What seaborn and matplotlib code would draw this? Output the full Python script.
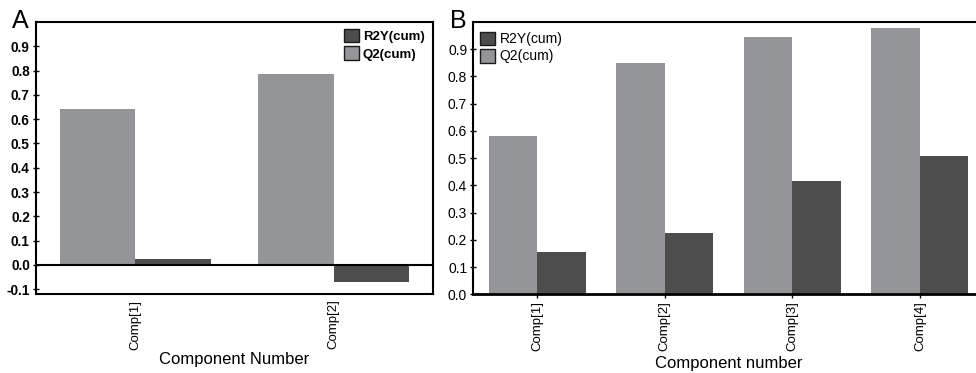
import matplotlib
matplotlib.use("Agg")
import matplotlib.pyplot as plt
from matplotlib.patches import Patch
import seaborn as sns
import numpy as np
import pandas as pd

# panel A
comps_a = ["Comp[1]", "Comp[2]"]
r2y_a = [0.025, -0.069]
q2_a = [0.643, 0.786]

# panel B
comps_b = ["Comp[1]", "Comp[2]", "Comp[3]", "Comp[4]"]
r2y_b = [0.157, 0.226, 0.417, 0.509]
q2_b = [0.582, 0.850, 0.945, 0.978]

series_names = ["R2Y(cum)", "Q2(cum)"]
colors = {"R2Y(cum)": "#4d4d4d", "Q2(cum)": "#939598"}


def long_frame(comps, r2y, q2):
    return pd.DataFrame({
        "comp": comps + comps,
        "value": list(r2y) + list(q2),
        "series": ["R2Y(cum)"] * len(comps) + ["Q2(cum)"] * len(comps),
    })


def draw_panel(ax, df):
    sns.barplot(data=df, x="comp", y="value", hue="series",
                hue_order=["Q2(cum)", "R2Y(cum)"], palette=colors,
                width=0.76, gap=0, saturation=1, errorbar=None,
                legend=False, ax=ax)
    for bar in ax.patches:
        bar.set_linewidth(0)
    ax.set_ylabel("")
    ax.tick_params(axis="x", labelrotation=90, labelsize=9.5, length=0, pad=4)
    ax.tick_params(axis="y", labelsize=9.5, direction="inout", length=5,
                   width=1, pad=2, left=True)
    for sp in ax.spines.values():
        sp.set_color("black")
        sp.set_linewidth(1.5)


sns.set_theme(style="white")
plt.rcParams['font.family'] = ['Liberation Sans', 'DejaVu Sans']
plt.rcParams['axes.unicode_minus'] = False
for key in ['text.color', 'axes.labelcolor', 'xtick.color', 'ytick.color']:
    plt.rcParams[key] = 'black'

fig = plt.figure(figsize=(9.76, 3.73), dpi=100)
ax_a = fig.add_axes([0.0369, 0.2118, 0.4068, 0.729])
ax_b = fig.add_axes([0.4851, 0.2105, 0.5228, 0.7306])

# ---- A
draw_panel(ax_a, long_frame(comps_a, r2y_a, q2_a))
ax_a.set_xlim(-0.5, 1.5)
ax_a.set_ylim(-0.12, 1.0)
yt = np.round(np.arange(-0.1, 0.95, 0.1), 1)
ax_a.set_yticks(yt)
ax_a.set_yticklabels(["%.1f" % v for v in yt], fontweight="bold", fontsize=9.8)
ax_a.axhline(0, color="black", lw=1.5, zorder=3)
ax_a.set_xlabel("Component Number", fontsize=12, labelpad=2)
handles = [Patch(facecolor=colors[s], edgecolor="#1a1a1a", linewidth=1) for s in series_names]
ax_a.legend(handles, series_names, loc="upper left", bbox_to_anchor=(0.775, 0.975),
            frameon=False, borderpad=0, borderaxespad=0, handlelength=1.15,
            handleheight=1.2, handletextpad=0.3, labelspacing=0.25,
            prop={"size": 9.5, "weight": "bold"})

# ---- B
draw_panel(ax_b, long_frame(comps_b, r2y_b, q2_b))
ax_b.set_xlim(-0.5, 3.5)
ax_b.set_ylim(0, 1.0)
yt = np.round(np.arange(0.0, 0.95, 0.1), 1)
ax_b.set_yticks(yt)
ax_b.set_yticklabels(["%.1f" % v for v in yt], fontsize=10)
ax_b.spines["right"].set_visible(False)
ax_b.spines["bottom"].set_linewidth(2)
ax_b.tick_params(axis="x", length=3, width=1, bottom=True, direction="out", pad=2)
ax_b.set_xlabel("Component number", fontsize=12, labelpad=3)
ax_b.legend(handles, series_names, loc="upper left", bbox_to_anchor=(0.012, 0.965),
            frameon=False, borderpad=0, borderaxespad=0, handlelength=1.1,
            handleheight=1.15, handletextpad=0.35, labelspacing=0.2,
            prop={"size": 10})

fig.text(0.012, 0.925, "A", fontsize=18)
fig.text(0.461, 0.925, "B", fontsize=18)

fig.savefig("out.png", dpi=100)
